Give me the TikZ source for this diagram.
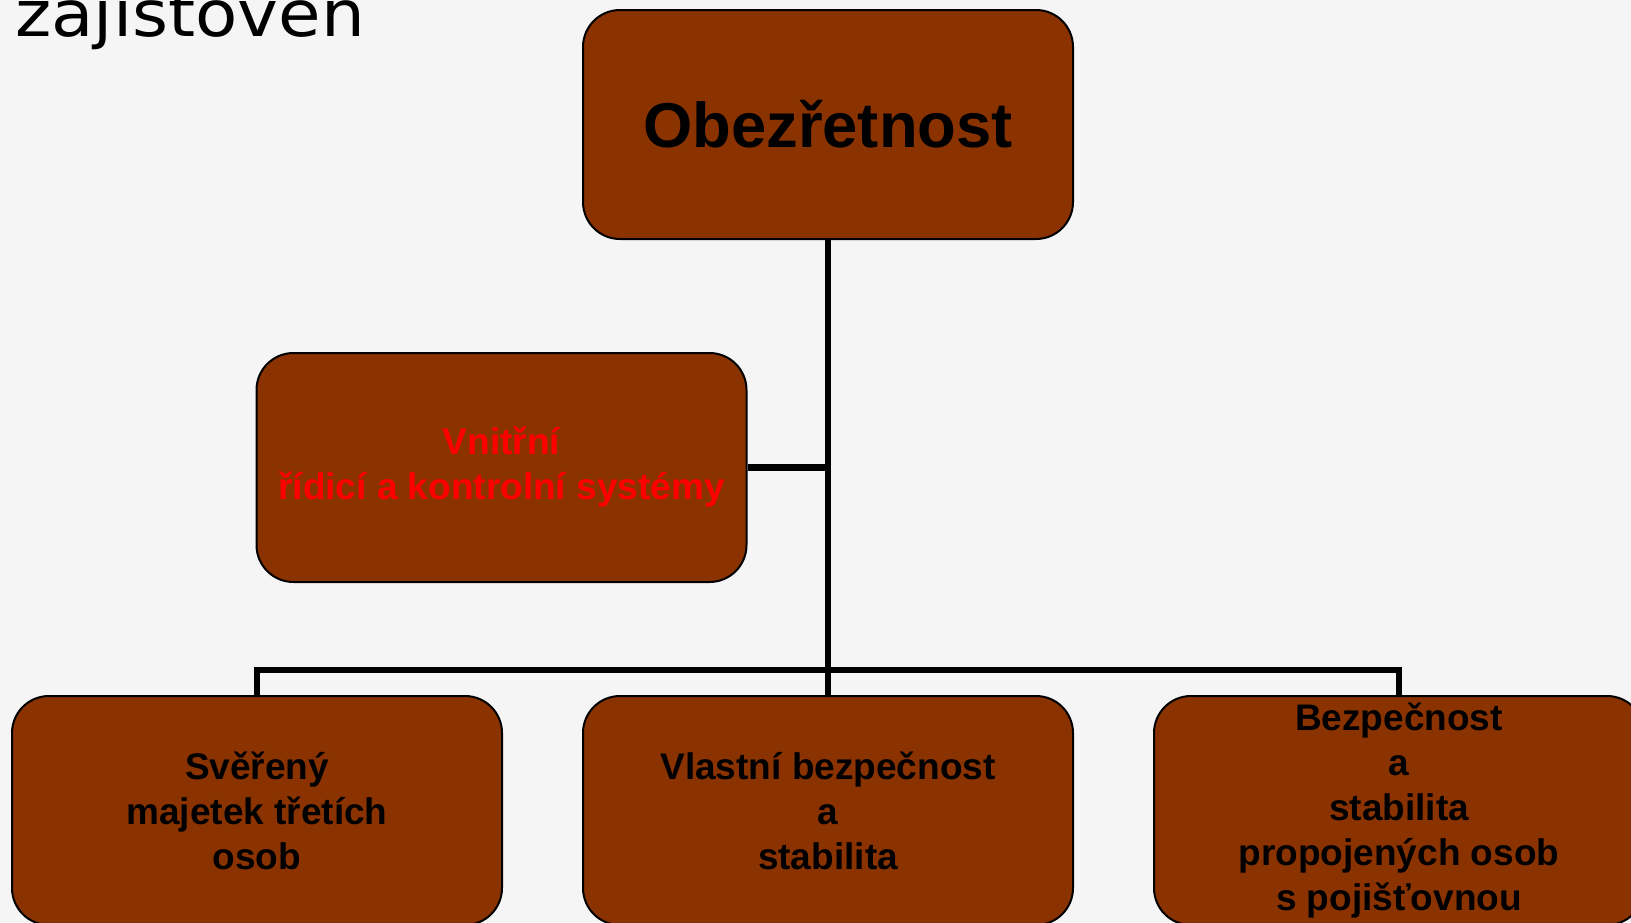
\documentclass[tikz,border=0pt]{standalone}
\usepackage{fontspec}
\setmainfont{Liberation Sans}
\newfontfamily\titlefont[FakeStretch=1.08]{DejaVu Sans}
\usepackage{tikz}

\definecolor{boxbrown}{RGB}{139,51,0}
\definecolor{bggray}{RGB}{245,245,245}

\begin{document}
\begin{tikzpicture}[x=0.75pt, y=-0.75pt,
  box/.style={draw=black, line width=1.5pt, fill=boxbrown, rounded corners=27.75pt,
    minimum width=367.5pt, minimum height=171.75pt, align=center, font=\bfseries\fontsize{27.75}{33.75}\selectfont},
  link/.style={line width=4.6pt}]
  \fill[bggray] (0,0) rectangle (1631,922);
  \clip (0,0) rectangle (1631,922);

  \node[anchor=base west, inner sep=0pt, font=\titlefont\fontsize{48}{56}\selectfont] (T) at (15,36) {zajišťoven};

  \node[box, font=\bfseries\fontsize{47.5}{56}\selectfont] (A) at (828,124.5) {Obezřetnost};
  \node[box, text=red] (B) at (501.5,467.5) {Vnitřní\\řídicí a kontrolní systémy};

  \node[box] (C) at (257,810.5) {Svěřený\\majetek třetích\\osob};
  \node[box] (D) at (828,810.5) {Vlastní bezpečnost\\a\\stabilita};
  \node[box] (E) at (1399,810.5) {Bezpečnost\\a\\stabilita\\propojených osob\\s pojišťovnou};

  \coordinate (F) at (828,670);
  \draw[link] (A) -- (D);
  \draw[link] (B.east) -- (B.east -| A.south);
  \draw[link] (C.north) |- (F) -| (E.north);
\end{tikzpicture}
\end{document}
